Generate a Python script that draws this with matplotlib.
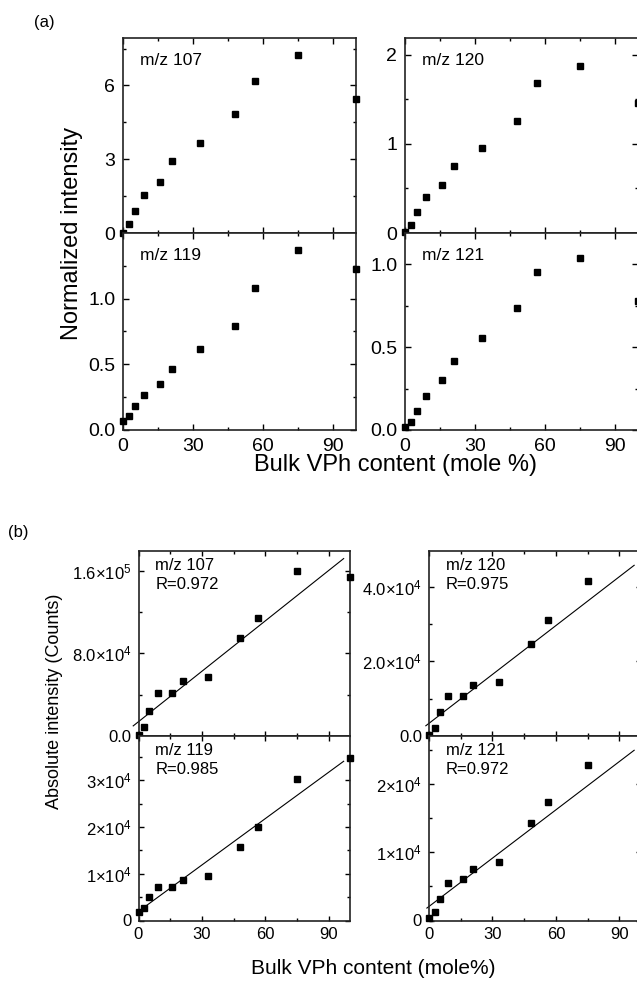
import numpy as np
import matplotlib
matplotlib.use("Agg")
import matplotlib.pyplot as plt

plt.rcParams['font.family'] = ['Liberation Sans', 'DejaVu Sans']
plt.rcParams['mathtext.fontset'] = 'custom'
plt.rcParams['mathtext.rm'] = 'Liberation Sans'
plt.rcParams['mathtext.it'] = 'Liberation Sans:italic'

# バルク VPh 含有率 (mole %)
X_VPH = [0, 2.7, 5, 9, 16, 21, 33, 48, 56.5, 75, 100]

# (a) 規格化強度
NORM_107 = [0.0, 0.37, 0.89, 1.55, 2.08, 2.92, 3.65, 4.83, 6.2, 7.23, 5.45]
NORM_120 = [0.01, 0.09, 0.24, 0.40, 0.54, 0.75, 0.95, 1.26, 1.69, 1.88, 1.46]
NORM_119 = [0.071, 0.109, 0.18, 0.265, 0.35, 0.463, 0.613, 0.794, 1.081, 1.371, 1.223]
NORM_121 = [0.02, 0.047, 0.113, 0.205, 0.30, 0.418, 0.557, 0.736, 0.953, 1.041, 0.781]

# (b) 絶対強度 (counts)
ABS_107 = [700, 8400, 23900, 41300, 41300, 53300, 56800, 95200, 113900, 159400, 154000]
ABS_120 = [200, 2100, 6350, 10700, 10700, 13600, 14600, 24800, 31100, 41600, 41600]
ABS_119 = [1800, 2700, 5000, 7200, 7100, 8600, 9600, 15700, 20000, 30400, 34700]
ABS_121 = [300, 1250, 3160, 5560, 6150, 7620, 8650, 14380, 17380, 22820, 22030]

LABELS = ["m/z 107", "m/z 120", "m/z 119", "m/z 121"]
R_VALUES = ["0.972", "0.975", "0.985", "0.972"]

X_TICKS = [0, 30, 60, 90]
A_YTICKS = [[0, 3, 6], [0, 1, 2], [0.0, 0.5, 1.0], [0.0, 0.5, 1.0]]
A_YTICKLABELS = [["0", "3", "6"], ["0", "1", "2"],
                 ["0.0", "0.5", "1.0"], ["0.0", "0.5", "1.0"]]
B_YTICKS = [[0, 8e4, 1.6e5], [0, 2e4, 4e4], [0, 1e4, 2e4, 3e4], [0, 1e4, 2e4]]
B_YTICKLABELS = [["0.0", "8.0×10$^{4}$", "1.6×10$^{5}$"],
                 ["0.0", "2.0×10$^{4}$", "4.0×10$^{4}$"],
                 ["0", "1×10$^{4}$", "2×10$^{4}$", "3×10$^{4}$"],
                 ["0", "1×10$^{4}$", "2×10$^{4}$"]]

W, H = 637, 981


def box(l, r, t, b):
    return [l / W, 1 - b / H, (r - l) / W, (b - t) / H]


def style(ax, yticks, ylabels, ylim, minor_y, fs, show_x, tl, pad):
    ax.set_xlim(0, 100)
    ax.set_ylim(*ylim)
    ax.set_xticks(X_TICKS)
    ax.set_xticks([15, 45, 75], minor=True)
    ax.set_yticks(yticks)
    ax.set_yticklabels(ylabels)
    ax.set_yticks(minor_y, minor=True)
    if not show_x:
        ax.set_xticklabels([])
    ax.tick_params(which="both", direction="in", top=True, right=True,
                   labelsize=fs, width=1.0, pad=pad)
    ax.tick_params(which="major", length=tl)
    ax.tick_params(which="minor", length=tl * 0.6)
    for s in ax.spines.values():
        s.set_linewidth(1.2)
        s.set_color("#222222")


fig = plt.figure(figsize=(W / 100, H / 100), dpi=100)

# ---- (a)
a_boxes = [box(123, 356, 38, 233), box(405, 638, 38, 233),
           box(123, 356, 233, 430), box(405, 638, 233, 430)]
a_data = [NORM_107, NORM_120, NORM_119, NORM_121]
a_ylims = [(0, 7.93), (0, 2.19), (0, 1.5), (0, 1.19)]
a_minor = [[1.5, 4.5, 7.5], [0.5, 1.5], [0.25, 0.75, 1.25], [0.25, 0.75]]
for i in range(4):
    ax = fig.add_axes(a_boxes[i])
    ax.plot(X_VPH, a_data[i], "s", color="black", ms=4.8, clip_on=False, zorder=5)
    style(ax, A_YTICKS[i], A_YTICKLABELS[i], a_ylims[i], a_minor[i], 14, i >= 2, 4, 5.5)
    ax.annotate(LABELS[i], (0, 1), xycoords="axes fraction", xytext=(12, -11),
                textcoords="offset points", ha="left", va="top", fontsize=12.5)

fig.text(72 / W, 1 - 233 / H, "Normalized intensity", rotation=90,
         ha="center", va="center", fontsize=17)
fig.text(396 / W, 1 - 465 / H, "Bulk VPh content (mole %)",
         ha="center", va="center", fontsize=17)
fig.text(44 / W, 1 - 22 / H, "(a)", ha="center", va="center", fontsize=12)

# ---- (b)
b_boxes = [box(138.5, 350, 551, 736), box(429, 640.5, 551, 736),
           box(138.5, 350, 736, 920.5), box(429, 640.5, 736, 920.5)]
b_data = [ABS_107, ABS_120, ABS_119, ABS_121]
b_ylims = [(0, 1.79e5), (0, 4.96e4), (0, 3.95e4), (0, 2.71e4)]
b_minor = [[4e4, 1.2e5], [1e4, 3e4], [5e3, 1.5e4, 2.5e4, 3.5e4], [5e3, 1.5e4, 2.5e4]]
fit_x0 = [-2.5, -1.5, 1.5, -1]
for i in range(4):
    ax = fig.add_axes(b_boxes[i])
    slope, icpt = np.polyfit(X_VPH, b_data[i], 1)
    xs = np.array([fit_x0[i], 97.0])
    ax.plot(xs, icpt + slope * xs, color="black", lw=0.8, clip_on=False)
    ax.plot(X_VPH, b_data[i], "s", color="black", ms=4.0, clip_on=False, zorder=5)
    style(ax, B_YTICKS[i], B_YTICKLABELS[i], b_ylims[i], b_minor[i], 12, i >= 2, 3.5, 5)
    ax.annotate(f"{LABELS[i]}\nR={R_VALUES[i]}", (0, 1), xycoords="axes fraction",
                xytext=(12, -5), textcoords="offset points", ha="left", va="top",
                fontsize=12, linespacing=1.3)

fig.text(55 / W, 1 - 701 / H, "Absolute intensity (Counts)", rotation=90,
         ha="center", va="center", fontsize=13)
fig.text(373 / W, 1 - 968 / H, "Bulk VPh content (mole%)",
         ha="center", va="center", fontsize=15)
fig.text(18 / W, 1 - 533 / H, "(b)", ha="center", va="center", fontsize=12)

fig.savefig("out.png", dpi=100)
plt.close(fig)
